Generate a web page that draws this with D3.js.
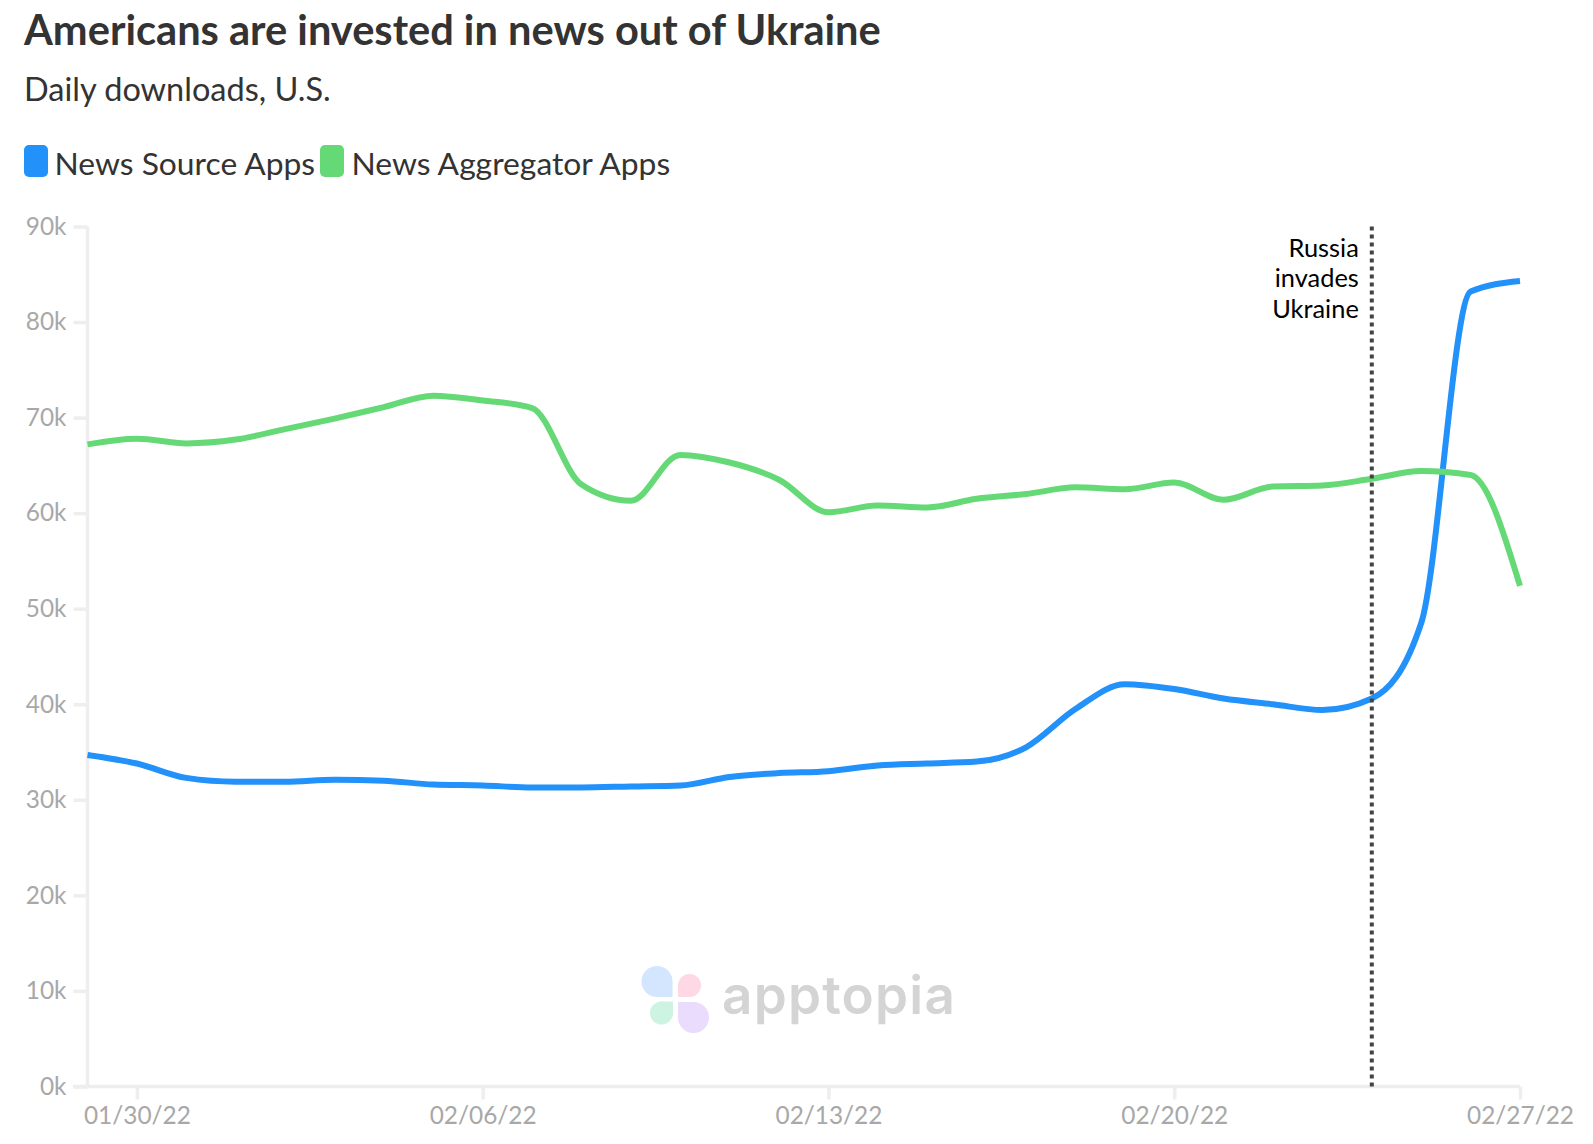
<!DOCTYPE html>
<html><head><meta charset="utf-8">
<script src="https://cdnjs.cloudflare.com/ajax/libs/d3/7.8.5/d3.min.js"></script>
<style>html,body{margin:0;padding:0;background:#fff}svg{display:block}text{font-family:Lato,sans-serif}</style>
</head><body><svg id="c" width="1593" height="1144"></svg>
<script>
const dates = ["01/29/22","01/30/22","01/31/22","02/01/22","02/02/22","02/03/22","02/04/22","02/05/22","02/06/22","02/07/22","02/08/22","02/09/22","02/10/22","02/11/22","02/12/22","02/13/22","02/14/22","02/15/22","02/16/22","02/17/22","02/18/22","02/19/22","02/20/22","02/21/22","02/22/22","02/23/22","02/24/22","02/25/22","02/26/22","02/27/22"];
const newsSource = [34.7,33.8,32.3,31.9,31.9,32.1,32.0,31.6,31.5,31.3,31.3,31.4,31.5,32.4,32.8,33.0,33.6,33.8,34.0,35.5,39.5,42.1,41.6,40.6,40.0,39.4,40.6,48.5,83.2,84.3];
const newsAggregator = [67.2,67.8,67.3,67.7,68.8,69.9,71.1,72.3,71.8,71.0,63.0,61.3,66.1,65.3,63.5,60.1,60.8,60.6,61.5,62.0,62.7,62.5,63.2,61.4,62.8,62.9,63.6,64.4,64.0,52.4];
const xTickLabels = ["01/30/22","02/06/22","02/13/22","02/20/22","02/27/22"];
const yTicks = [0,10,20,30,40,50,60,70,80,90];
const eventDate = "02/24/22";
const eventLabel = ["Russia","invades","Ukraine"];
const legendItems = ["News Source Apps","News Aggregator Apps"];

const parse = d3.timeParse("%m/%d/%y");
const svg = d3.select("#c");
const x = d3.scaleTime().domain(d3.extent(dates, parse)).range([87.5,1520]);
const y = d3.scaleLinear().domain([0,90]).range([1086.5,226.5]);
const axisCol = "#eeeeee", tickText = "#a8a8a8", dark = "#333333";
const blue = "#2291f9", green = "#66d977";

svg.append("text").attr("x",24).attr("y",45).attr("font-size",41.6).attr("font-weight",700).attr("fill",dark).text("Americans are invested in news out of Ukraine");
svg.append("text").attr("x",24).attr("y",100.5).attr("font-size",32.5).attr("fill",dark).text("Daily downloads, U.S.");

const lx = [24,320], ltx=[54.5,351.5];
legendItems.forEach((t,i)=>{
  svg.append("rect").attr("x",lx[i]).attr("y",145).attr("width",24).attr("height",32).attr("rx",5).attr("fill",[blue,green][i]);
  svg.append("text").attr("x",ltx[i]).attr("y",175).attr("font-size",31.8).attr("fill",dark).text(t);
});

// Watermark
const wm = svg.append("g");
const petal=(cx,cy,r,corner,fill)=>{
  const s=d3.path();
  s.arc(cx,cy,r,0,2*Math.PI);
  wm.append("path").attr("d",s.toString()).attr("fill",fill);
  const sx=corner[0],sy=corner[1];
  wm.append("rect").attr("x",sx>0?cx:cx-r).attr("y",sy>0?cy:cy-r).attr("width",r).attr("height",r).attr("fill",fill);
};
petal(657,981.5,15.5,[1,1],"#d4e6fd");
petal(689.5,985.5,11.5,[-1,1],"#fed9e5");
petal(661.5,1013,11.5,[1,-1],"#cdf4e3");
petal(693.5,1017.5,15.5,[-1,-1],"#e9dcfd");
svg.append("text").attr("x",722).attr("y",1014).attr("font-size",53).attr("font-weight",600).style("font-family","Inter, sans-serif").attr("letter-spacing",1.2).attr("fill","#d4d4d4").text("apptopia");

// axes
const yAxis = d3.axisLeft(y).tickValues(yTicks).tickFormat(d=>d+"k").tickSize(14).tickPadding(7);
const gy = svg.append("g").attr("transform","translate(87.5,0)").call(yAxis);
const xTickDates = xTickLabels.map(parse);
const xAxis = d3.axisBottom(x).tickValues(xTickDates).tickFormat(d3.timeFormat("%m/%d/%y")).tickSize(13).tickPadding(7);
const gx = svg.append("g").attr("transform","translate(0,1086.5)").call(xAxis);
[gx,gy].forEach(g=>{
  g.select(".domain").attr("stroke",axisCol).attr("stroke-width",3.5).attr("d", g===gy?"M0,226.5V1086.5":"M73,0H1520");
  g.selectAll(".tick line").attr("stroke",axisCol).attr("stroke-width",3.5);
  g.selectAll(".tick text").attr("fill",tickText).attr("font-size",24.4).style("font-family","Lato, sans-serif");
});

// lines
const line = d3.line().x((d,i)=>x(parse(dates[i]))).y(d=>y(d)).curve(d3.curveMonotoneX);
[[newsSource,blue],[newsAggregator,green]].forEach(([s,c])=>{
  svg.append("path").datum(s).attr("d",line).attr("fill","none").attr("stroke",c).attr("stroke-width",6).attr("stroke-linejoin","round");
});

// event
const ex = x(parse(eventDate));
svg.append("line").attr("x1",ex).attr("x2",ex).attr("y1",226.5).attr("y2",1086.5).attr("stroke","#444").attr("stroke-width",4).attr("stroke-dasharray","4 4");
eventLabel.forEach((t,i)=>{
  svg.append("text").attr("x",ex-13).attr("y",257+i*30.4).attr("text-anchor","end").attr("font-size",25.4).attr("fill","#000").text(t);
});
</script></body></html>
